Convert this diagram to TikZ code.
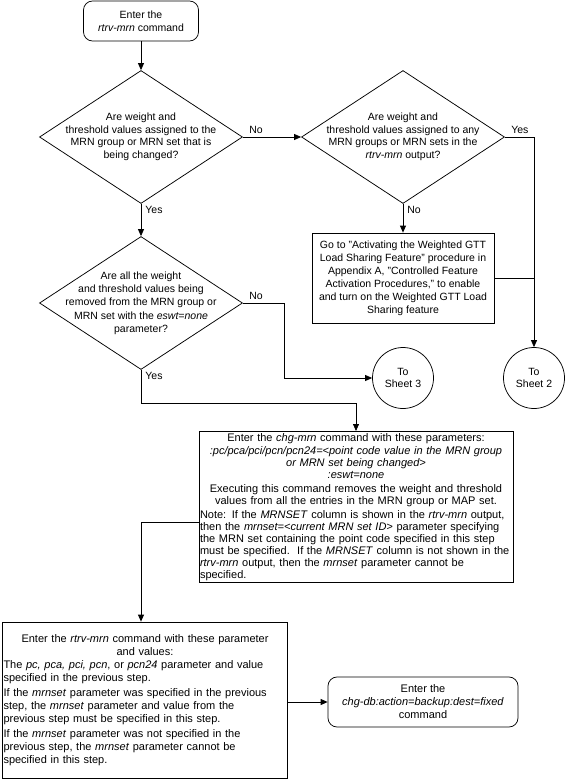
\documentclass[tikz,border=0pt]{standalone}
\usepackage{fontspec}
\setmainfont{Liberation Sans}
\usetikzlibrary{arrows.meta, positioning, shapes.geometric}

\begin{document}
\begin{tikzpicture}[
  x=1pt, y=-1pt,
  font=\fontsize{10.5}{12.5}\selectfont,
  line width=0.75pt,
  term/.style={draw, rounded corners=9pt, align=center, minimum width=115pt, minimum height=40pt, inner sep=2pt},
  dec/.style={draw, diamond, minimum width=203pt, minimum height=133pt, inner sep=0pt},
  dtext/.style={align=center, inner sep=0pt},
  proc/.style={draw, align=center, inner sep=2pt},
  sheet/.style={draw, circle, minimum size=61pt, align=center, inner sep=0pt},
  arr/.style={-{Triangle[length=7pt, width=6pt]}},
  lbl/.style={inner sep=1pt},
]
\useasboundingbox (0,0) rectangle (565,781);

\node[term] (start) at (141,21) {Enter the\\\textit{rtrv-mrn} command};

\node[dec] (d1) at (141,137) {};
\node[dtext] (d1t) at (d1) {Are weight and\\threshold values assigned to the\\MRN group or MRN set that is\\being changed?};
\node[dec] (d2) at (403,137) {};
\node[dtext] (d2t) at (d2) {Are weight and\\threshold values assigned to any\\MRN groups or MRN sets in the\\\textit{rtrv-mrn} output?};
\node[dec] (d3) at (141,303) {};
\node[dtext, font=\fontsize{10.5}{13.3}\selectfont] (d3t) at (d3) {Are all the weight\\and threshold values being\\removed from the MRN group or\\MRN set with the \textit{eswt=none}\\parameter?};

\node[proc, minimum width=182pt, minimum height=90pt, font=\fontsize{10.5}{13}\selectfont] (gobox) at (403,278) {Go to "Activating the Weighted GTT\\Load Sharing Feature" procedure in\\Appendix A, "Controlled Feature\\Activation Procedures," to enable\\and turn on the Weighted GTT Load\\Sharing feature};

\node[sheet] (s3) at (403,378) {To\\Sheet 3};
\node[sheet] (s2) at (534,378) {To\\Sheet 2};

\node[proc, text width=312pt, inner xsep=1pt, align=left, minimum height=147pt, font=\fontsize{11}{12}\selectfont] (bigbox) at (356,507) {%
{\centering Enter the \textit{chg-mrn} command with these parameters:\\[1pt]
\textit{:pc/pca/pci/pcn/pcn24=<point code value in the MRN group}\\
\textit{or MRN set being changed>}\\
\textit{:eswt=none}\\[2pt]
Executing this command removes the weight and threshold\\
values from all the entries in the MRN group or MAP set.\par}
\vspace{2pt}
Note: If the \textit{MRNSET} column is shown in the \textit{rtrv-mrn} output,\\
then the \textit{mrnset=<current MRN set ID>} parameter specifying\\
the MRN set containing the point code specified in this step\\
must be specified.\ \ If the \textit{MRNSET} column is not shown in the\\
\textit{rtrv-mrn} output, then the \textit{mrnset} parameter cannot be\\
specified.};

\node[proc, text width=283pt, inner xsep=1pt, align=left, minimum height=156pt, font=\fontsize{11}{12.8}\selectfont] (blbox) at (145,700) {%
{\centering Enter the \textit{rtrv-mrn} command with these parameter\\
and values:\par}
\vspace{1pt}
The \textit{pc, pca, pci, pcn}, or \textit{pcn24} parameter and value\\
specified in the previous step.\\[2.5pt]
If the \textit{mrnset} parameter was specified in the previous\\
step, the \textit{mrnset} parameter and value from the\\
previous step must be specified in this step.\\[2.5pt]
If the \textit{mrnset} parameter was not specified in the\\
previous step, the \textit{mrnset} parameter cannot be\\
specified in this step.};

\node[term, minimum width=190pt, minimum height=50pt, font=\fontsize{11}{13}\selectfont] (dbbox) at (423,702) {Enter the\\\textit{chg-db:action=backup:dest=fixed}\\command};

\draw[arr] (start) -- (d1);
\draw[arr] (d1.east) -- (d2.west);
\node[lbl, anchor=south west] (no1) at ([xshift=5pt, yshift=2pt]d1.east) {No};
\draw[arr] (d2.south) -- (gobox.north);
\node[lbl, anchor=north west] (no2) at ([xshift=3pt, yshift=-1pt]d2.south) {No};
\draw[arr] (d2.east) -- (d2.east -| s2.north) -- (s2.north);
\node[lbl, anchor=south west] (yes2) at ([xshift=5pt, yshift=2pt]d2.east) {Yes};
\draw (gobox.east) -- (gobox.east -| s2.north);
\draw[arr] (d1.south) -- (d3.north);
\node[lbl, anchor=north west] (yes1) at ([xshift=3pt, yshift=-1pt]d1.south) {Yes};
\draw[arr] (d3.east) -- ++(41,0) |- (s3.west);
\node[lbl, anchor=south west] (no3) at ([xshift=5pt, yshift=2pt]d3.east) {No};
\draw[arr] (d3.south) -- ++(0,33) -| (bigbox.north);
\node[lbl, anchor=north west] (yes3) at ([xshift=3pt, yshift=-1pt]d3.south) {Yes};
\draw[arr] ([yshift=-15pt]bigbox.west) -| (d3.south |- blbox.north);
\draw[arr] (blbox.east |- dbbox.west) -- (dbbox.west);
\end{tikzpicture}
\end{document}
